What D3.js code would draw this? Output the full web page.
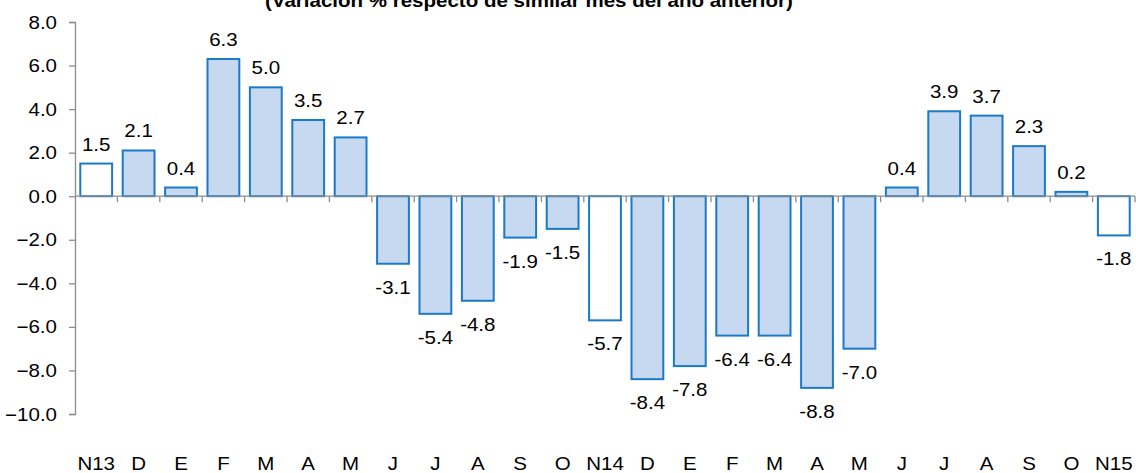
<!DOCTYPE html>
<html>
<head>
<meta charset="utf-8">
<script src="https://cdn.jsdelivr.net/npm/d3@7"></script>
<style>
  body { margin: 0; background: #fff; }
  text { font-family: "Liberation Sans", Arial, sans-serif; fill: #000; }
</style>
</head>
<body>
<div id="graph"></div>
<script>
var months = ["N13", "D", "E", "F", "M", "A", "M", "J", "J", "A", "S", "O", "N14",
    "D", "E", "F", "M", "A", "M", "J", "J", "A", "S", "O", "N15"];
var values = [1.5, 2.1, 0.4, 6.3, 5.0, 3.5, 2.7, -3.1, -5.4, -4.8, -1.9, -1.5, -5.7,
    -8.4, -7.8, -6.4, -6.4, -8.8, -7.0, 0.4, 3.9, 3.7, 2.3, 0.2, -1.8];
// November bars are drawn without fill
var hollow = ["N13", "N14", "N15"];
var yTicks = [8, 6, 4, 2, 0, -2, -4, -6, -8, -10];
var title = "(Variación  % respecto de similar mes del año anterior)";

var width = 1136,
    height = 473,
    stretch = 1.14;   // the source text is a little wider than the font

var svg = d3.select("#graph")
    .append("svg")
    .attr("width", width)
    .attr("height", height);

var data = months.map(function (m, i) {
    return { key: i, label: m, value: values[i] };
});

var x = d3.scaleBand()
    .domain(data.map(function (d) { return d.key; }))
    .range([75, 1135])
    .paddingInner(0.25)
    .paddingOuter(0.125);

var y = d3.scaleLinear()
    .domain([-10, 8])
    .range([414, 22]);

function place(px, py) {
    return "translate(" + px + "," + py + ") scale(" + stretch + ",1)";
}

svg.append("text")
    .attr("transform", place(265, 7))
    .style("font-size", "18px")
    .style("font-weight", "bold")
    .text(title);

// y axis
var yAxis = svg.append("g")
    .attr("transform", "translate(75,0)")
    .call(d3.axisLeft(y).tickValues(yTicks).tickSize(6).tickFormat(""));
yAxis.select(".domain").attr("stroke", "#8c8c8c").attr("stroke-width", 1.3);
yAxis.selectAll(".tick line").attr("stroke", "#8c8c8c").attr("stroke-width", 1.3);

svg.selectAll("text.ytick")
    .data(yTicks)
    .enter()
    .append("text")
    .attr("class", "ytick")
    .attr("transform", function (d) { return place(57, y(d) + 6.5); })
    .attr("text-anchor", "end")
    .style("font-size", "18px")
    .text(d3.format(".1f"));

// bars
svg.selectAll("rect.bar")
    .data(data)
    .enter()
    .append("rect")
    .attr("class", "bar")
    .attr("x", function (d) { return x(d.key); })
    .attr("y", function (d) { return y(Math.max(0, d.value)); })
    .attr("width", x.bandwidth())
    .attr("height", function (d) { return Math.abs(y(d.value) - y(0)); })
    .style("fill", function (d) {
        return hollow.indexOf(d.label) >= 0 ? "#ffffff" : "#c6d9f0";
    })
    .style("stroke", "#1a7ac8")
    .style("stroke-width", 2);

// zero line with category ticks
svg.append("line")
    .attr("x1", 75).attr("x2", 1135)
    .attr("y1", y(0)).attr("y2", y(0))
    .attr("stroke", "#8c8c8c")
    .attr("stroke-width", 1.3);

svg.selectAll("line.xtick")
    .data(data)
    .enter()
    .append("line")
    .attr("class", "xtick")
    .attr("x1", function (d) { return x(d.key) - x.step() * x.paddingInner() / 2 + x.step(); })
    .attr("x2", function (d) { return x(d.key) - x.step() * x.paddingInner() / 2 + x.step(); })
    .attr("y1", y(0))
    .attr("y2", y(0) + 6)
    .attr("stroke", "#8c8c8c")
    .attr("stroke-width", 1.3);

// value labels
svg.selectAll("text.val")
    .data(data)
    .enter()
    .append("text")
    .attr("class", "val")
    .attr("transform", function (d) {
        var ty = d.value >= 0 ? y(d.value) - 13 : y(d.value) + 30;
        return place(x(d.key) + x.bandwidth() / 2, ty);
    })
    .attr("text-anchor", "middle")
    .style("font-size", "18px")
    .text(function (d) { return d.value.toFixed(1); });

// category labels
svg.selectAll("text.cat")
    .data(data)
    .enter()
    .append("text")
    .attr("class", "cat")
    .attr("transform", function (d) { return place(x(d.key) + x.bandwidth() / 2, 470); })
    .attr("text-anchor", "middle")
    .style("font-size", "18px")
    .text(function (d) { return d.label; });
</script>
</body>
</html>
